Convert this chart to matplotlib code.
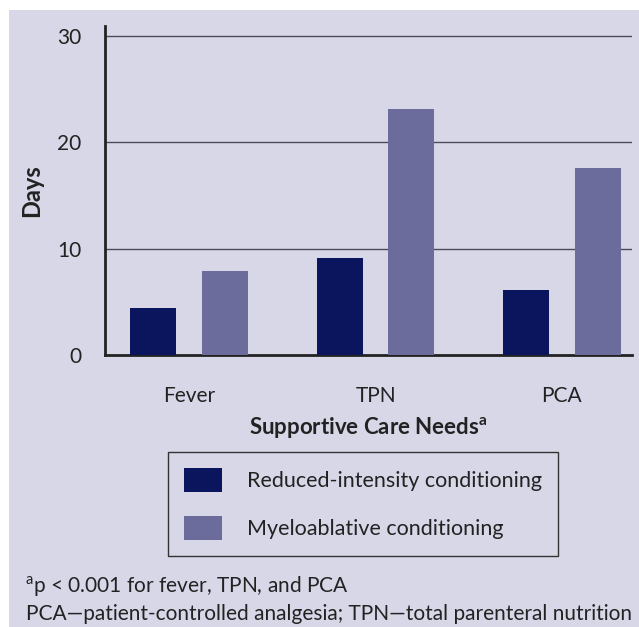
import matplotlib
matplotlib.use("Agg")
import matplotlib.pyplot as plt
import numpy as np
from matplotlib.patches import Rectangle

categories = ["Fever", "TPN", "PCA"]
series_names = ["Reduced-intensity conditioning", "Myeloablative conditioning"]
reduced_intensity = [4.4, 9.1, 6.1]
myeloablative = [7.9, 23.1, 17.6]
y_ticks = [0, 10, 20, 30]

BG = "#D8D7E8"
COLORS = ["#0B155E", "#6B6C9C"]
TEXT = "#222222"

plt.rcParams["font.family"] = ["Lato", "DejaVu Sans"]

fig = plt.figure(figsize=(6.39, 6.27), dpi=100)
fig.patch.set_facecolor("white")
fig.patches.append(Rectangle((9 / 639, 0), 1, 1 - 10 / 627, transform=fig.transFigure,
                             facecolor=BG, edgecolor="none", zorder=-10))

ax = fig.add_axes([105 / 639, 1 - 355 / 627, (632 - 105) / 639, (355 - 26) / 627])
ax.set_facecolor("none")

x = np.arange(len(categories))
offset, width = 0.192, 0.247
bars_a = ax.bar(x - offset, reduced_intensity, width, color=COLORS[0], label=series_names[0], zorder=3)
bars_b = ax.bar(x + offset, myeloablative, width, color=COLORS[1], label=series_names[1], zorder=3)

ax.set_xlim(-0.452, 2.376)
ax.set_ylim(0, 30.9)
ax.set_yticks(y_ticks)
ax.set_xticks(x)
ax.set_xticklabels(categories)
ax.tick_params(axis="both", length=0, labelsize=15, colors=TEXT)
ax.tick_params(axis="y", pad=17)
ax.tick_params(axis="x", pad=22)
for y in y_ticks[1:]:
    ax.axhline(y, color="#4a4a5a", linewidth=1.0, zorder=1)

for side in ("top", "right"):
    ax.spines[side].set_visible(False)
for side in ("left", "bottom"):
    ax.spines[side].set_linewidth(2.0)
    ax.spines[side].set_color(TEXT)

ax.set_ylabel("Days", fontsize=17, fontweight="bold", labelpad=10, color=TEXT)
ax.set_xlabel(r"Supportive Care Needs$^{\mathregular{a}}$", fontsize=16, fontweight="bold",
              labelpad=7, color=TEXT)

leg = fig.legend(handles=[bars_a, bars_b], loc="upper left",
                 bbox_to_anchor=(168 / 639, 1 - 452 / 627), borderaxespad=0,
                 fontsize=15.5, handlelength=1.75, handleheight=1.3, handletextpad=1.15,
                 labelspacing=1.15, borderpad=0.75, fancybox=False, facecolor=BG,
                 framealpha=1, edgecolor="#333333", labelcolor=TEXT)
leg.get_frame().set_linewidth(1.0)

fig.text(25 / 639, 1 - 587 / 627, r"$^{\mathregular{a}}$p < 0.001 for fever, TPN, and PCA",
         fontsize=15, va="center", ha="left", color=TEXT)
fig.text(26 / 639, 1 - 614 / 627, "PCA\u2014patient-controlled analgesia; TPN\u2014total parenteral nutrition",
         fontsize=15, va="center", ha="left", color=TEXT)

fig.savefig("out.png", dpi=100)
